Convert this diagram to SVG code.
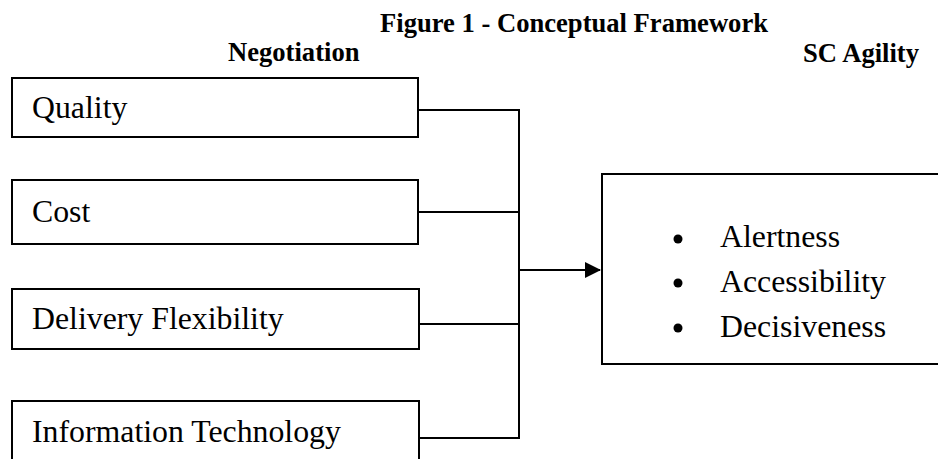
<svg xmlns="http://www.w3.org/2000/svg" width="938" height="459" viewBox="0 0 938 459">
<defs>
<style>
.box{fill:#fff;stroke:#000;stroke-width:2}
.ln{fill:none;stroke:#000;stroke-width:2}
.t{font-family:"Liberation Serif","Times New Roman",serif;font-size:31.8px;fill:#000}
.h{font-family:"Liberation Serif","Times New Roman",serif;font-size:26.6px;font-weight:bold;fill:#000}
</style>
<marker id="arr" markerWidth="16" markerHeight="16" refX="15" refY="8" orient="auto" markerUnits="userSpaceOnUse">
<path d="M0,0 L16,8 L0,16 Z" fill="#000"/>
</marker>
</defs>
<rect width="938" height="459" fill="#fff"/>
<g id="headings">
<text class="h" x="380" y="32">Figure 1 - Conceptual Framework</text>
<text class="h" x="228" y="61">Negotiation</text>
<text class="h" x="803" y="62">SC Agility</text>
</g>
<g id="connectors">
<line class="ln" x1="418" y1="110" x2="519" y2="110"/>
<line class="ln" x1="418" y1="212" x2="519" y2="212"/>
<line class="ln" x1="418" y1="324" x2="519" y2="324"/>
<line class="ln" x1="418" y1="438" x2="519" y2="438"/>
<line class="ln" x1="519" y1="109" x2="519" y2="439"/>
<line class="ln" x1="519" y1="270" x2="600" y2="270" marker-end="url(#arr)"/>
</g>
<g id="quality">
<rect class="box" x="12" y="78" width="406" height="59"/>
<text class="t" x="32" y="118">Quality</text>
</g>
<g id="cost">
<rect class="box" x="12" y="180" width="406" height="64"/>
<text class="t" x="32" y="222">Cost</text>
</g>
<g id="delivery">
<rect class="box" x="12" y="289" width="407" height="60"/>
<text class="t" x="32" y="329">Delivery Flexibility</text>
</g>
<g id="it">
<rect class="box" x="12" y="401" width="407" height="62"/>
<text class="t" x="32" y="442">Information Technology</text>
</g>
<g id="sc-agility">
<rect class="box" x="602" y="174" width="342" height="190"/>
<circle cx="678" cy="239" r="4.5" fill="#000"/>
<circle cx="678" cy="283" r="4.5" fill="#000"/>
<circle cx="678" cy="328" r="4.5" fill="#000"/>
<text class="t" x="720" y="247">Alertness</text>
<text class="t" x="720" y="292">Accessibility</text>
<text class="t" x="720" y="337">Decisiveness</text>
</g>
</svg>
